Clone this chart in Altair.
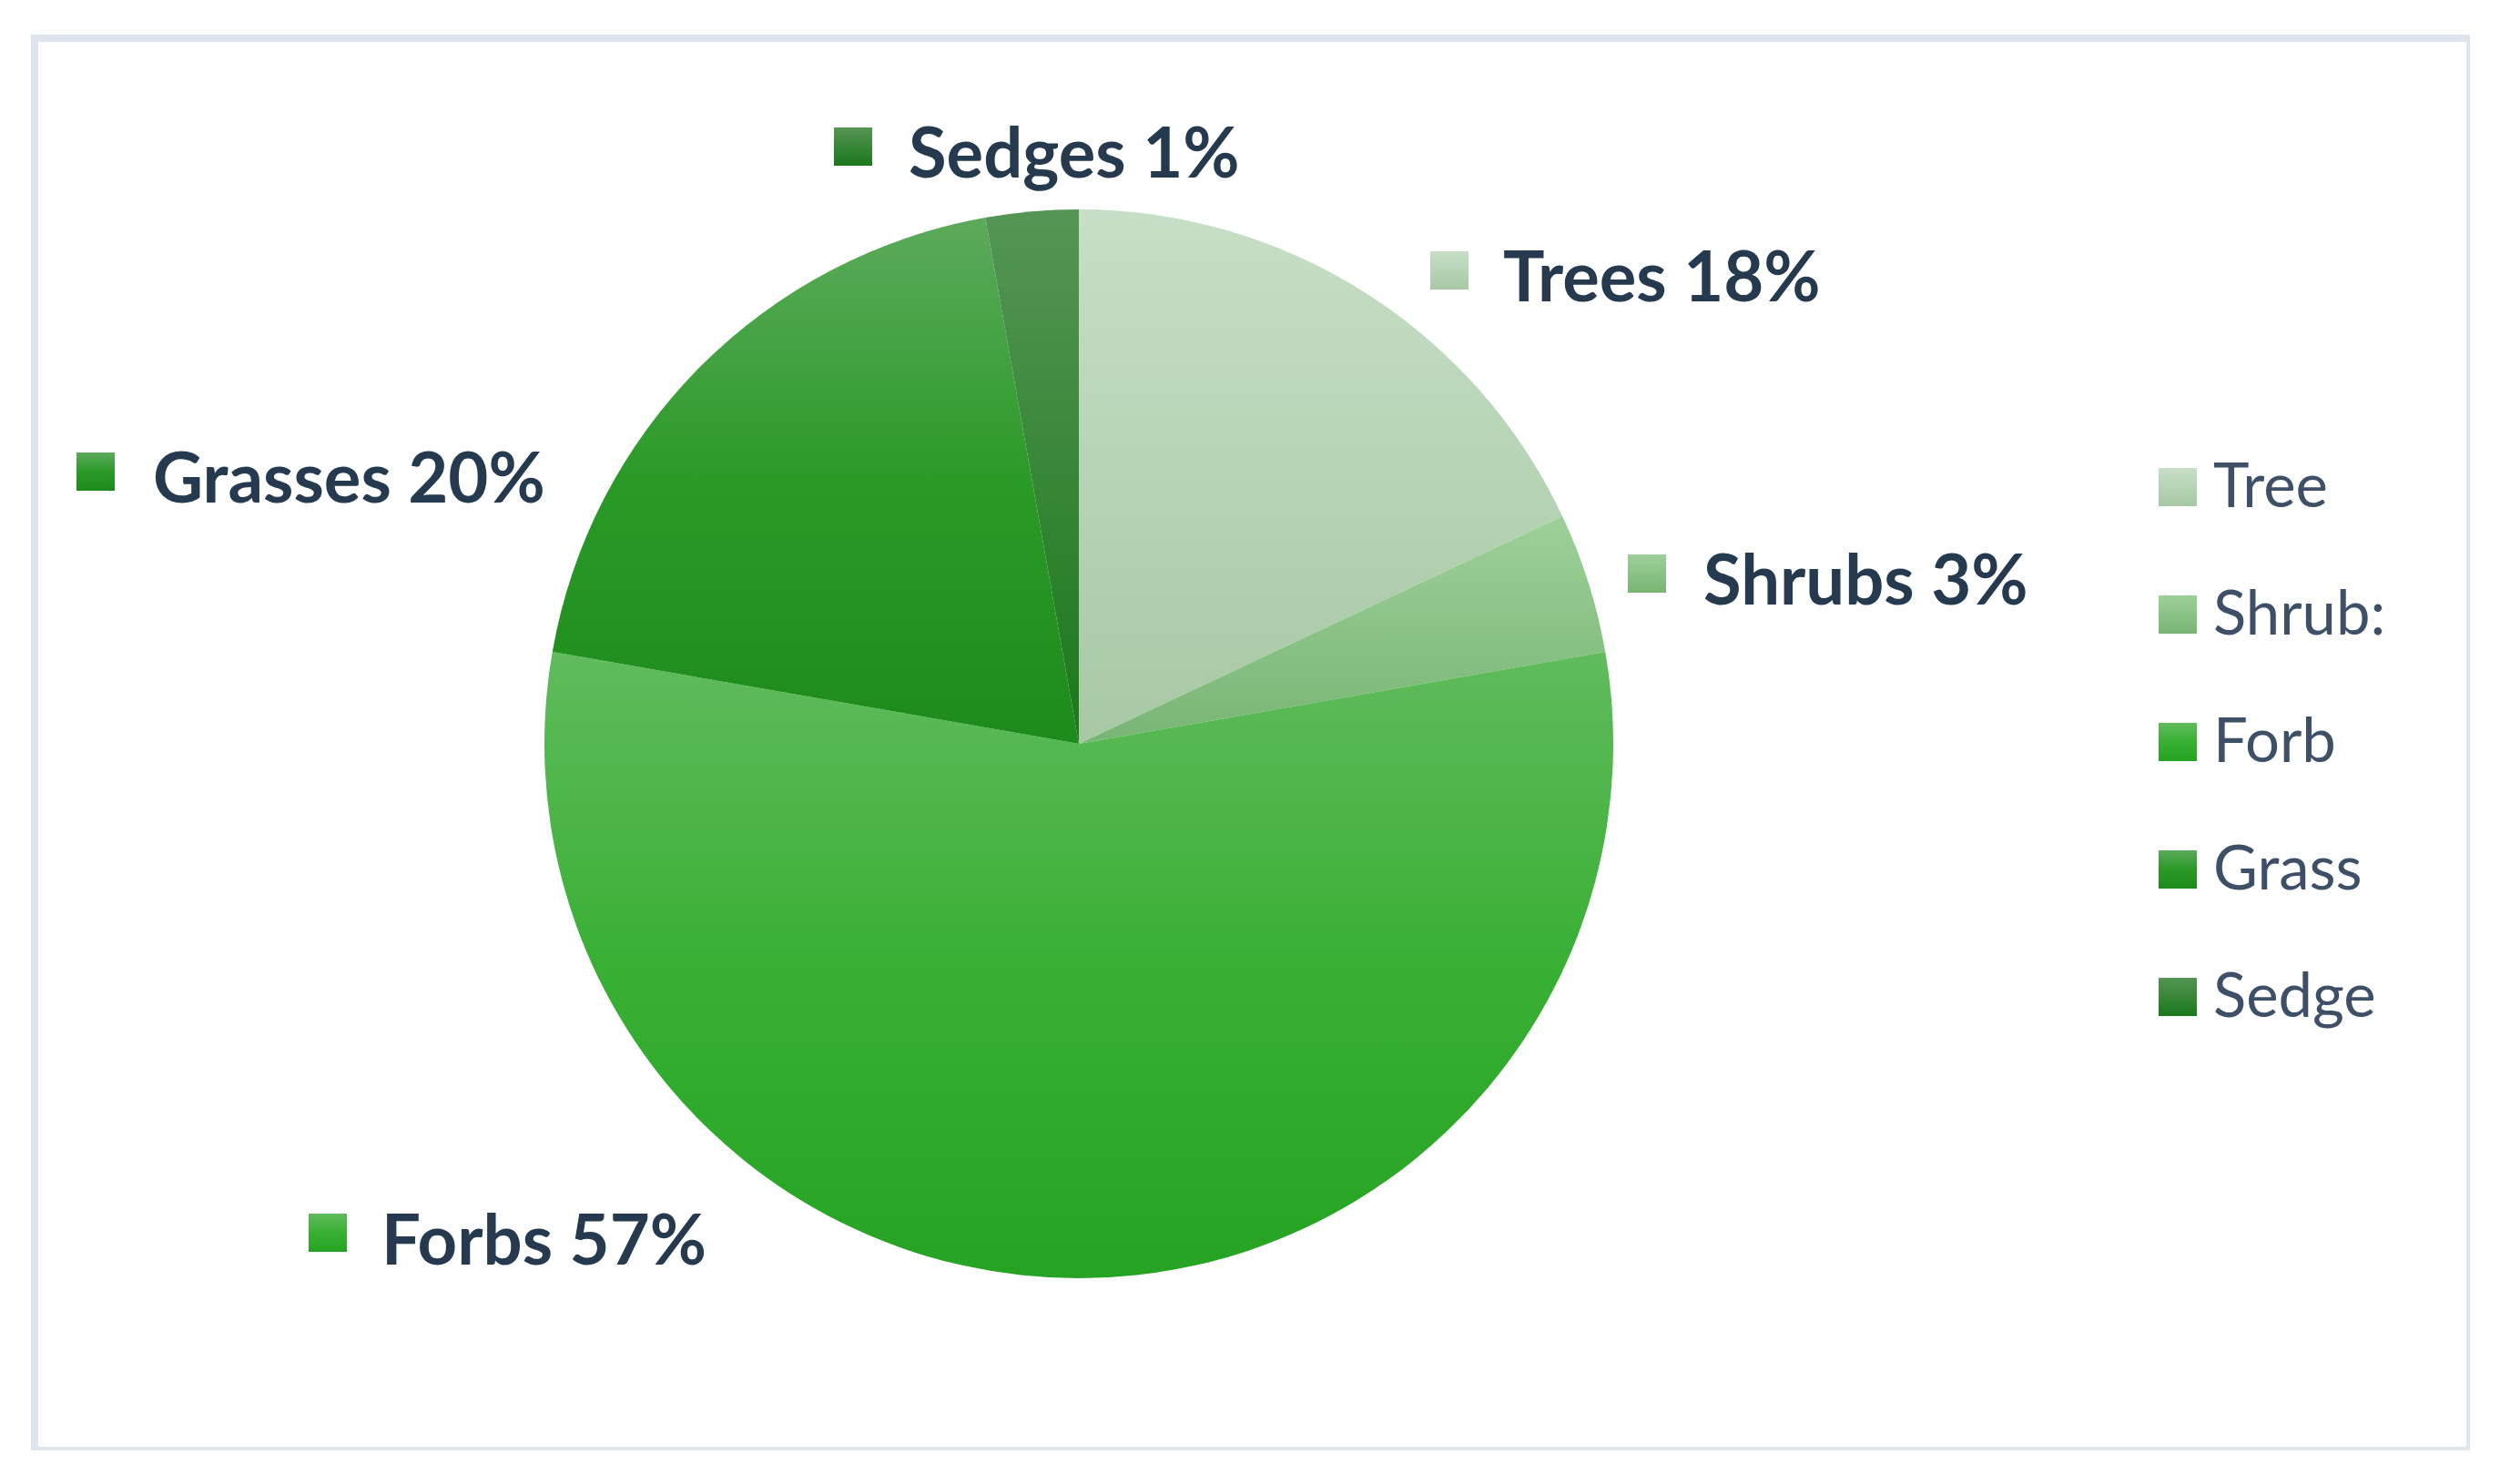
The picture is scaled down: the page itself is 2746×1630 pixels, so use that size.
import altair as alt
import pandas as pd

# ---------------- data ----------------
categories = ["Trees", "Shrubs", "Forbs", "Grasses", "Sedges"]
values = [18.0, 4.25, 55.5, 19.45, 2.8]          # slice sizes
label_texts = ["Trees 18%", "Shrubs 3%", "Forbs 57%", "Grasses 20%", "Sedges 1%"]
legend_labels = ["Tree", "Shrub:", "Forb", "Grass", "Sedge"]

# ---------------- styles ----------------
GRADIENT_STOPS = {
    "Trees":   [(0, "#C6DFC6"), (1, "#A8C8A5")],
    "Shrubs":  [(0, "#9DD099"), (1, "#78B574")],
    "Forbs":   [(0, "#60BB5C"), (0.5, "#38B034"), (1, "#26A323")],
    "Grasses": [(0, "#5CAA5B"), (0.5, "#2A9A27"), (1, "#1D8B1B")],
    "Sedges":  [(0, "#559555"), (1, "#1A781A")],
}
LABEL_COLOR = "#263A4F"
LEGEND_TEXT_COLOR = "#3D5068"
BORDER_COLOR = "#DEE5EC"

# ---------------- layout (view pixels) ----------------
W, H = 2675, 1551
PIE_CX, PIE_CY, PIE_R = 1147, 775, 587
# text left x, text baseline y, key centre x, key centre y
LABEL_POS = {
    "Trees":   (1613, 289, 1554, 255),
    "Shrubs":  (1833, 622, 1771, 588),
    "Forbs":   (381, 1347, 322, 1312),
    "Grasses": (130, 510, 67, 476),
    "Sedges":  (960, 153, 899, 119),
}
KEY = 42
LEG_KEY_X1, LEG_KEY_X2, LEG_KEY_H = 2333, 2375, 42
LEG_Y0, LEG_STEP = 493, 140
LEG_TEXT_X = 2393
LEG_BASELINE_OFF = 22


def gradient(cat):
    return {
        "gradient": "linear", "x1": 0, "y1": 0, "x2": 0, "y2": 1,
        "stops": [{"offset": o, "color": c} for o, c in GRADIENT_STOPS[cat]],
    }


def fill_def():
    return {
        "condition": [
            {"test": f"datum.cat === '{c}'", "value": gradient(c)}
            for c in categories[:-1]
        ],
        "value": gradient(categories[-1]),
    }


pie_df = pd.DataFrame({"cat": categories, "value": values, "idx": range(len(categories))})

label_df = pd.DataFrame({
    "cat": categories,
    "text": label_texts,
    "tx": [LABEL_POS[c][0] for c in categories],
    "ty": [LABEL_POS[c][1] for c in categories],
    "kx1": [LABEL_POS[c][2] - KEY / 2 for c in categories],
    "kx2": [LABEL_POS[c][2] + KEY / 2 for c in categories],
    "ky1": [LABEL_POS[c][3] - KEY / 2 for c in categories],
    "ky2": [LABEL_POS[c][3] + KEY / 2 for c in categories],
})

legend_df = pd.DataFrame({
    "cat": categories,
    "label": legend_labels,
    "kx1": [LEG_KEY_X1] * 5,
    "kx2": [LEG_KEY_X2] * 5,
    "ky1": [LEG_Y0 + i * LEG_STEP - LEG_KEY_H / 2 for i in range(5)],
    "ky2": [LEG_Y0 + i * LEG_STEP + LEG_KEY_H / 2 for i in range(5)],
    "tx": [LEG_TEXT_X] * 5,
    "ty": [LEG_Y0 + i * LEG_STEP + LEG_BASELINE_OFF for i in range(5)],
})

pie = alt.Chart(pie_df).mark_arc(outerRadius=PIE_R, strokeWidth=0).encode(
    theta=alt.Theta("value:Q", stack=True),
    order=alt.Order("idx:Q"),
    detail="cat:N",
    x=alt.value(PIE_CX),
    y=alt.value(PIE_CY),
    fill=fill_def(),
)

label_keys = alt.Chart(label_df).mark_rect().encode(
    x=alt.X("kx1:Q", scale=None, axis=None), x2="kx2:Q",
    y=alt.Y("ky1:Q", scale=None, axis=None), y2="ky2:Q",
    fill=fill_def(),
)
label_text = alt.Chart(label_df).mark_text(
    align="left", baseline="alphabetic", font="Lato", fontWeight="bold",
    fontSize=76, color=LABEL_COLOR,
).encode(
    x=alt.X("tx:Q", scale=None, axis=None),
    y=alt.Y("ty:Q", scale=None, axis=None),
    text="text:N",
)

legend_keys = alt.Chart(legend_df).mark_rect().encode(
    x=alt.X("kx1:Q", scale=None, axis=None), x2="kx2:Q",
    y=alt.Y("ky1:Q", scale=None, axis=None), y2="ky2:Q",
    fill=fill_def(),
)
legend_text = alt.Chart(legend_df).mark_text(
    align="left", baseline="alphabetic", font="Lato",
    fontSize=67, color=LEGEND_TEXT_COLOR,
).encode(
    x=alt.X("tx:Q", scale=None, axis=None),
    y=alt.Y("ty:Q", scale=None, axis=None),
    text="label:N",
)

chart = alt.layer(pie, label_keys, label_text, legend_keys, legend_text).properties(
    width=W, height=H,
    padding={"left": 30, "top": 34, "right": 0, "bottom": 0},
    background="white",
).configure_view(stroke=BORDER_COLOR, strokeWidth=8)

chart.save("out.html", embed_options={"renderer": "svg", "actions": False})
